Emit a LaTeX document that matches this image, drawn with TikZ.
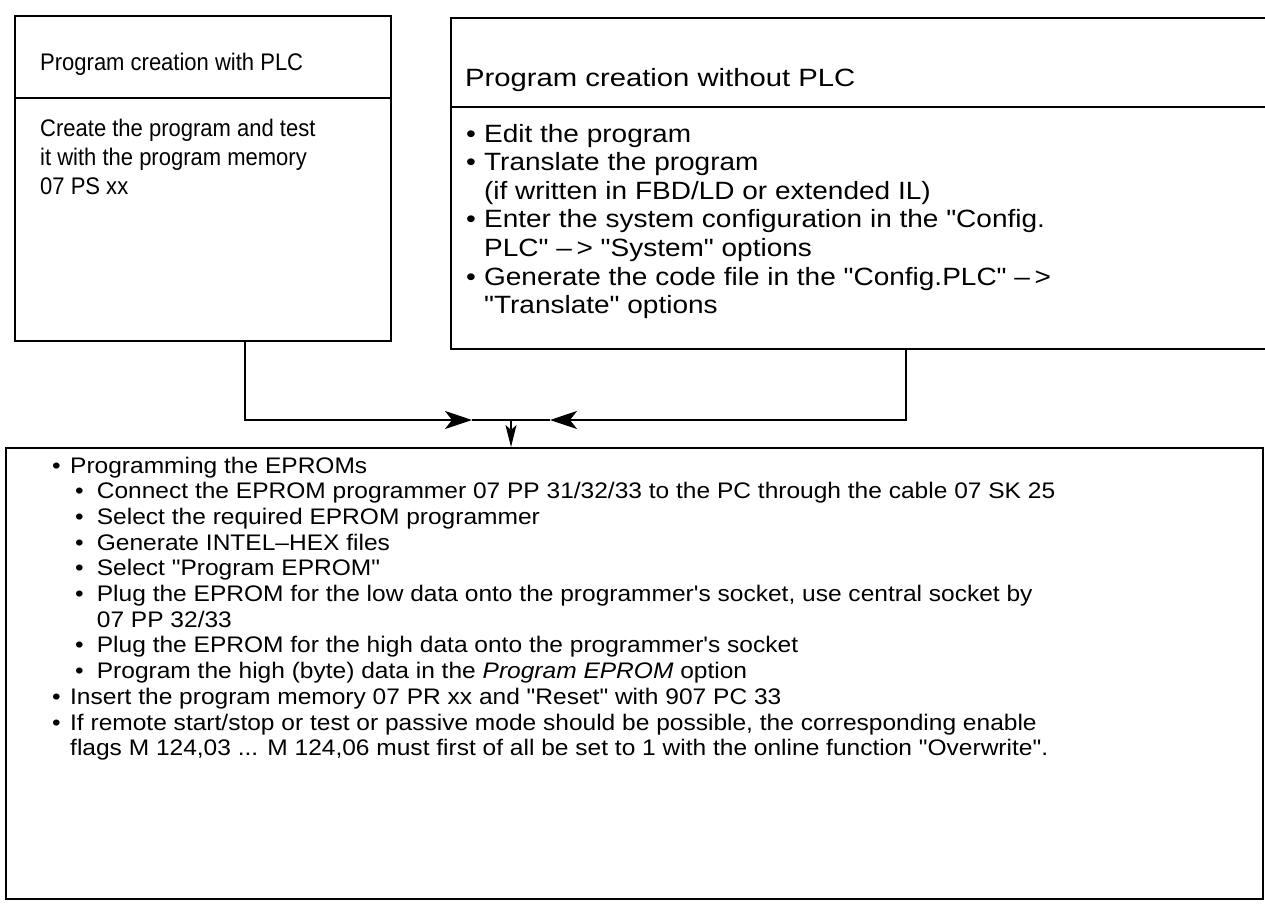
\documentclass[tikz,border=0pt]{standalone}
\usepackage{fontspec}
\setmainfont{Liberation Sans}[Ligatures=TeXOff]
\usetikzlibrary{arrows.meta,calc}
\newcommand\lvA[1]{\makebox[16.5pt][l]{\textbullet}#1}
\newcommand\lvB[1]{\hspace*{21pt}\makebox[20pt][l]{\textbullet}#1}
\newcommand\ctA[1]{\hspace*{16.5pt}#1}
\newcommand\ctB[1]{\hspace*{41pt}#1}
\newcommand\rbul[1]{\makebox[16pt][l]{\textbullet}#1}
\newcommand\rcont[1]{\hspace*{16pt}#1}
\begin{document}
\begin{tikzpicture}[x=1pt,y=-1pt,
  box/.style={draw, line width=1.5pt, inner sep=0pt, anchor=north west},
  rule/.style={line width=1.5pt},
  conn/.style={line width=1.3pt},
  ltxt/.style={anchor=base west, inner sep=0pt, font=\fontsize{24}{29.3}\selectfont},
  rtxt/.style={anchor=base west, inner sep=0pt, font=\fontsize{25}{28.6}\selectfont},
  btxt/.style={anchor=base west, inner sep=0pt, font=\fontsize{22.5}{25.7}\selectfont},
  bigtip/.style={-{Stealth[length=27pt,width=18pt,inset=7pt]}},
  downtip/.style={-{Stealth[length=22pt,width=11pt,inset=5pt]}}]
\useasboundingbox (0,0) rectangle (1265,905);
\fill[white] (0,0) rectangle (1265,905);
% left box
\node[box, minimum width=376pt, minimum height=325pt] (lbox) at (14,15) {};
\coordinate (ldiv) at (0,98);
\draw[rule] (lbox.west |- ldiv) -- (lbox.east |- ldiv);
\node[ltxt] (ltitle) at (40,70) {\scalebox{0.917}[1]{Program creation with PLC}};
\node[ltxt] (lbody) at (40,136) {\scalebox{0.917}[1]{\begin{tabular}[t]{@{}l@{}}Create the program and test\\ it with the program memory\\ 07 PS xx\end{tabular}}};
% right box
\node[box, minimum width=830pt, minimum height=331pt] (rbox) at (450,17) {};
\coordinate (rdiv) at (0,107);
\draw[rule] (rbox.west |- rdiv) -- (rbox.east |- rdiv);
\node[rtxt] (rtitle) at (465,86) {\scalebox{1.17}[1]{Program creation without PLC}};
\node[rtxt] (rbody) at (466,142) {\scalebox{1.12}[1]{\begin{tabular}[t]{@{}l@{}}
\rbul{Edit the program}\\
\rbul{Translate the program}\\
\rcont{(if written in FBD/LD or extended IL)}\\
\rbul{Enter the system configuration in the "Config.}\\
\rcont{PLC" \textendash\,> "System" options}\\
\rbul{Generate the code file in the "Config.PLC" \textendash\,>}\\
\rcont{"Translate" options}
\end{tabular}}};
% bottom box
\node[box, minimum width=1257pt, minimum height=451pt] (bbox) at (5,447) {};
\node[btxt] (bbody) at (52,473) {\scalebox{1.09}[1]{\begin{tabular}[t]{@{}l@{}}
\lvA{Programming the EPROMs}\\
\lvB{Connect the EPROM programmer 07 PP 31/32/33 to the PC through the cable 07 SK 25}\\
\lvB{Select the required EPROM programmer}\\
\lvB{Generate INTEL\textendash HEX files}\\
\lvB{Select "Program EPROM"}\\
\lvB{Plug the EPROM for the low data onto the programmer's socket, use central socket by}\\
\ctB{07 PP 32/33}\\
\lvB{Plug the EPROM for the high data onto the programmer's socket}\\
\lvB{Program the high (byte) data in the \textit{Program EPROM} option}\\
\lvA{Insert the program memory 07 PR xx and "Reset" with 907 PC 33}\\
\lvA{If remote start/stop or test or passive mode should be possible, the corresponding enable}\\
\ctA{flags M 124,03 ... M 124,06 must first of all be set to 1 with the online function "Overwrite".}
\end{tabular}}};
% connectors
\coordinate (jl) at (245,420);
\coordinate (jr) at (906,420);
\coordinate (tl) at (472,420);
\coordinate (tr) at (550,420);
\coordinate (jc) at (511,420);
\draw[conn,bigtip] (lbox.south -| jl) |- (tl);
\draw[conn,bigtip] (rbox.south -| jr) |- (tr);
\draw[conn] (tl) -- (tr);
\draw[conn,downtip] (jc) -- (bbox.north -| jc);
\end{tikzpicture}
\end{document}
